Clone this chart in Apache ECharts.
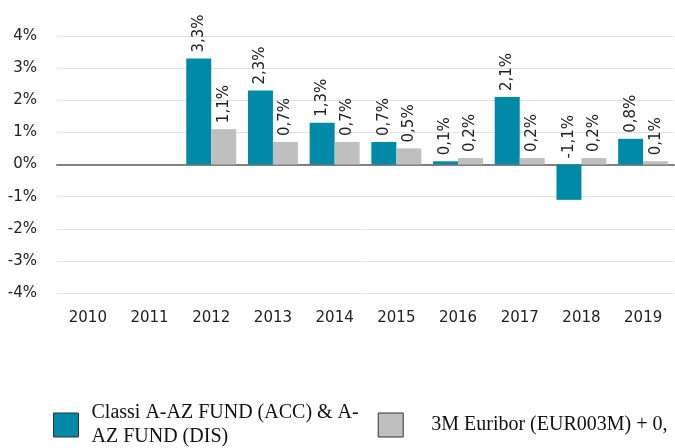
<!DOCTYPE html>
<html>
<head>
<meta charset="utf-8">
<script src="https://cdn.jsdelivr.net/npm/echarts@6/dist/echarts.min.js"></script>
<style>
  html, body { margin: 0; padding: 0; background: #fff; }
  #chart { width: 675px; height: 448px; }
</style>
</head>
<body>
<div id="chart"></div>
<script>
const years = ['2010', '2011', '2012', '2013', '2014', '2015', '2016', '2017', '2018', '2019'];
const fundName = 'Classi A-AZ FUND (ACC) & A-AZ FUND (DIS)';
const fundLegendLines = ['Classi A-AZ FUND (ACC) & A-', 'AZ FUND (DIS)'];
const benchName = '3M Euribor (EUR003M) + 0,';
// null = no data for that year
const fundValues = [null, null, 3.3, 2.3, 1.3, 0.7, 0.1, 2.1, -1.1, 0.8];
const benchValues = [null, null, 1.1, 0.7, 0.7, 0.5, 0.2, 0.2, 0.2, 0.1];

const chart = echarts.init(document.getElementById('chart'));
const sansFont = '"DejaVu Sans", sans-serif';
const serifFont = '"Liberation Serif", "Times New Roman", serif';

function pct(v) {
  return v.toFixed(1).replace('.', ',') + '%';
}

const barLabel = {
  show: true,
  position: 'top',
  rotate: 90,
  align: 'left',
  verticalAlign: 'middle',
  distance: 6,
  color: '#222',
  fontFamily: sansFont,
  fontSize: 15,
  formatter: (p) => pct(p.value)
};

chart.setOption({
  animation: false,
  grid: { top: 36, bottom: 155, left: 57, right: 1 },
  xAxis: [
    {
      type: 'category',
      data: years,
      axisLine: { show: false, onZero: false },
      axisTick: { show: false },
      axisLabel: { color: '#222', fontFamily: sansFont, fontSize: 15, margin: 18 }
    },
    {
      // draws the zero line only
      type: 'category',
      data: years,
      position: 'bottom',
      axisLine: { show: true, onZero: true, lineStyle: { color: '#808080', width: 2 } },
      axisTick: { show: false },
      axisLabel: { show: false }
    }
  ],
  yAxis: {
    type: 'value',
    min: -4,
    max: 4,
    interval: 1,
    axisLine: { show: false },
    axisTick: { show: false },
    axisLabel: {
      color: '#222', fontFamily: sansFont, fontSize: 15, margin: 20,
      formatter: (v) => v + '%'
    },
    splitLine: { lineStyle: { color: '#e2e2e2', width: 1 } }
  },
  legend: {
    left: 48,
    top: 396,
    orient: 'horizontal',
    icon: 'rect',
    itemWidth: 25,
    itemHeight: 24,
    itemGap: 19,
    itemStyle: { borderColor: '#333', borderWidth: 1 },
    textStyle: {
      fontFamily: serifFont, fontSize: 20, color: '#111', lineHeight: 24
    },
    formatter: (name) => (name === fundName ? fundLegendLines.join('\n') : name),
    data: [
      { name: fundName, textStyle: { padding: [0, 0, 0, 8] } },
      { name: benchName, textStyle: { padding: [12, 0, 0, 23] } }
    ]
  },
  series: [
    {
      name: fundName,
      type: 'bar',
      data: fundValues,
      barWidth: 25,
      barGap: '0%',
      itemStyle: { color: '#008aa8' },
      label: barLabel
    },
    {
      name: benchName,
      type: 'bar',
      data: benchValues,
      barWidth: 25,
      barGap: '0%',
      itemStyle: { color: '#bfbfbf' },
      label: barLabel
    }
  ]
});
</script>
</body>
</html>
